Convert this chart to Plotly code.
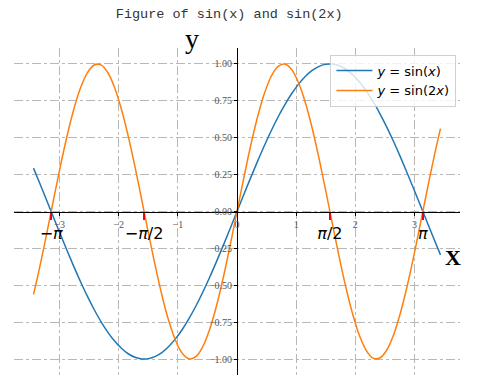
import plotly.graph_objects as go

# ---- data ----
x_vals = [-3.44, -3.335, -3.22, -3.105, -2.99, -2.875, -2.76, -2.645, -2.53, -2.415, -2.30,
          -2.185, -2.07, -1.955, -1.84, -1.725, -1.61, -1.495, -1.38, -1.265, -1.15,
          -1.035, -0.92, -0.805, -0.69, -0.575, -0.46, -0.345, -0.23, -0.115, 0.0,
          0.115, 0.23, 0.345, 0.46, 0.575, 0.69, 0.805, 0.92, 1.035, 1.15,
          1.265, 1.38, 1.495, 1.61, 1.725, 1.84, 1.955, 2.07, 2.185, 2.30,
          2.415, 2.53, 2.645, 2.76, 2.875, 2.99, 3.105, 3.22, 3.335, 3.44]
sin_x = [0.294, 0.192, 0.078, -0.037, -0.151, -0.263, -0.372, -0.476, -0.574, -0.664, -0.746,
         -0.817, -0.878, -0.927, -0.964, -0.988, -0.999, -0.997, -0.982, -0.954, -0.913,
         -0.860, -0.796, -0.721, -0.637, -0.544, -0.444, -0.338, -0.228, -0.115, 0.0,
         0.115, 0.228, 0.338, 0.444, 0.544, 0.637, 0.721, 0.796, 0.860, 0.913,
         0.954, 0.982, 0.997, 0.999, 0.988, 0.964, 0.927, 0.878, 0.817, 0.746,
         0.664, 0.574, 0.476, 0.372, 0.263, 0.151, 0.037, -0.078, -0.192, -0.294]
sin_2x = [-0.562, -0.377, -0.156, 0.073, 0.299, 0.508, 0.691, 0.838, 0.940, 0.993, 0.994,
          0.942, 0.841, 0.695, 0.513, 0.304, 0.078, -0.151, -0.372, -0.574, -0.746,
          -0.878, -0.964, -0.999, -0.982, -0.913, -0.796, -0.637, -0.444, -0.228, 0.0,
          0.228, 0.444, 0.637, 0.796, 0.913, 0.982, 0.999, 0.964, 0.878, 0.746,
          0.574, 0.372, 0.151, -0.078, -0.304, -0.513, -0.695, -0.841, -0.942, -0.994,
          -0.993, -0.940, -0.838, -0.691, -0.508, -0.299, -0.073, 0.156, 0.377, 0.562]

x_ticks = [-3, -2, -1, 0, 1, 2, 3]
y_ticks = [-1.0, -0.75, -0.5, -0.25, 0.0, 0.25, 0.5, 0.75, 1.0]
pi_ticks = [-3.141592653589793, -1.5707963267948966, 1.5707963267948966, 3.141592653589793]
pi_labels = ["\u2212<i>\u03c0</i>", "\u2212<i>\u03c0</i>/2", "<i>\u03c0</i>/2", "<i>\u03c0</i>"]

X_RANGE = [-3.77, 3.77]
Y_RANGE = [-1.108, 1.108]

x_pos = (0 - X_RANGE[0]) / (X_RANGE[1] - X_RANGE[0])
y_pos = (0 - Y_RANGE[0]) / (Y_RANGE[1] - Y_RANGE[0])

fig = go.Figure()
fig.add_trace(go.Scatter(x=x_vals, y=sin_x, mode="lines", line=dict(color="#1f77b4", width=1.5, shape="spline"),
                         name="<i>y</i> = sin(<i>x</i>)"))
fig.add_trace(go.Scatter(x=x_vals, y=sin_2x, mode="lines", line=dict(color="#ff7f0e", width=1.5, shape="spline"),
                         name="<i>y</i> = sin(2<i>x</i>)"))
# invisible trace to activate xaxis2
fig.add_trace(go.Scatter(x=[X_RANGE[0]], y=[0], xaxis="x2", yaxis="y", mode="markers",
                         marker=dict(opacity=0), showlegend=False, hoverinfo="skip"))

tick_font = dict(family="Liberation Serif", size=10, color="#555555")
grid = dict(showgrid=True, gridcolor="#b8b8b8", griddash="dashdot", gridwidth=1)

fig.update_layout(
    width=493, height=387,
    margin=dict(l=14, r=33, t=48, b=12),
    paper_bgcolor="white", plot_bgcolor="white",
    title=dict(text="Figure of sin(x) and sin(2x)", x=0.465, xanchor="center", y=0.965, yanchor="middle",
               font=dict(family="Liberation Mono", size=13.5, color="#333333")),
    xaxis=dict(range=X_RANGE, anchor="free", position=y_pos, tickvals=x_ticks,
               ticktext=[("\u2212" + str(-v)) if v < 0 else str(v) for v in x_ticks],
               ticks="outside", ticklen=3, tickcolor="black", tickfont=tick_font,
               showline=True, linecolor="black", linewidth=1, zeroline=False, **grid),
    xaxis2=dict(range=X_RANGE, overlaying="x", anchor="free", position=y_pos, matches="x",
                tickvals=pi_ticks, ticktext=pi_labels, ticks="outside", ticklen=7, tickwidth=2,
                tickcolor="red", tickfont=dict(family="DejaVu Sans", size=16, color="black"),
                showline=False, showgrid=False, zeroline=False, side="bottom"),
    yaxis=dict(range=Y_RANGE, anchor="free", position=x_pos, tickvals=y_ticks, tickformat=".2f",
               ticks="outside", ticklen=3, tickcolor="black", tickfont=tick_font,
               showline=True, linecolor="black", linewidth=1, zeroline=False, **grid),
    legend=dict(x=0.992, y=0.98, xanchor="right", yanchor="top", bgcolor="rgba(255,255,255,0.8)",
                bordercolor="#d0d0d0", borderwidth=1, font=dict(family="DejaVu Sans", size=13, color="black"),
                itemwidth=36, tracegroupgap=2),
    showlegend=True,
    annotations=[
        dict(text="y", xref="paper", yref="paper", x=0.40, y=1.03, showarrow=False,
             font=dict(family="Liberation Serif", size=28, color="black"), xanchor="center", yanchor="middle"),
        dict(text="<b>X</b>", xref="paper", yref="paper", x=0.984, y=0.358, showarrow=False,
             font=dict(family="Liberation Serif", size=22, color="black"), xanchor="center", yanchor="middle"),
    ],
)

fig.write_html("out.html", config={"displayModeBar": False},
               post_script="document.body.style.margin='0';document.body.style.overflow='hidden';")
